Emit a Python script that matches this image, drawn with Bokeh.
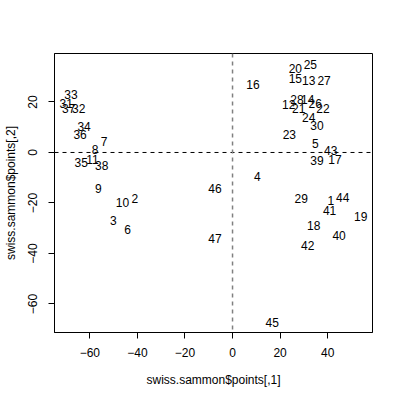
from bokeh.plotting import figure
from bokeh.models import ColumnDataSource, Range1d, Span, FixedTicker
from bokeh.core.properties import value
from bokeh.embed import file_html
from bokeh.resources import INLINE

labels = [str(i) for i in range(1, 48)]
sx = [41.3, -41.1, -50.1, 10.4, 34.8, -44.1, -54.0, -57.8, -56.4, -46.3,
      -58.9, 23.6, 32.0, 31.6, 26.4, 8.6, 43.1, 34.1, 53.9, 26.4,
      27.8, 38.0, 23.9, 32.0, 32.7, 34.8, 38.5, 27.1, 28.9, 35.5,
      -69.9, -64.7, -67.9, -62.4, -63.6, -64.1, -68.9, -55.0, 35.5, 44.8,
      40.8, 31.6, 41.3, 46.3, 16.7, -7.4, -7.4]
sy = [-19.1, -18.4, -27.0, -9.5, 3.4, -30.6, 4.3, 1.1, -14.3, -20.0,
      -2.9, 19.1, 28.7, 21.1, 29.4, 26.8, -2.6, -28.9, -25.3, 33.4,
      17.5, 17.5, 7.0, 13.8, 34.7, 19.5, 28.5, 20.8, -18.4, 10.6,
      19.5, 17.5, 22.8, 10.3, -3.8, 7.3, 17.3, -5.3, -3.3, -32.9,
      -22.9, -36.9, 0.7, -18.0, -67.4, -14.1, -34.2]
xticks = [-60, -40, -20, 0, 20, 40]
yticks = [-60, -40, -20, 0, 20]

src = ColumnDataSource(dict(x=sx, y=sy, label=labels))

p = figure(width=400, height=399, x_range=Range1d(-74.85, 58.85),
           y_range=Range1d(-71.3, 39.2), output_backend="svg",
           toolbar_location=None, min_border_left=53, min_border_top=53,
           min_border_right=28, min_border_bottom=67)
p.xgrid.visible = False
p.ygrid.visible = False
p.outline_line_color = "black"
p.outline_line_width = 1
p.background_fill_color = "white"
p.border_fill_color = "white"

for ax, ticks in ((p.xaxis[0], xticks), (p.yaxis[0], yticks)):
    ax.ticker = FixedTicker(ticks=ticks)
    ax.major_tick_out = 6
    ax.major_tick_in = 0
    ax.minor_tick_line_color = None
    ax.axis_line_color = "black"
    ax.major_tick_line_color = "black"
    ax.major_label_text_font = "Liberation Sans"
    ax.major_label_text_font_size = "12px"
    ax.major_label_text_color = "black"
    ax.axis_label_text_font = "Liberation Sans"
    ax.axis_label_text_font_size = "12px"
    ax.axis_label_text_font_style = "normal"
    ax.axis_label_text_color = "black"

p.xaxis.major_label_standoff = 9
p.yaxis.major_label_standoff = 11
p.xaxis.axis_label = "swiss.sammon$points[,1]"
p.yaxis.axis_label = "swiss.sammon$points[,2]"
p.xaxis.axis_label_standoff = 13
p.yaxis.axis_label_standoff = 8
p.yaxis.major_label_orientation = "vertical"

p.add_layout(Span(location=0, dimension="width", line_color="black",
                  line_dash="4 4", line_width=1))
p.add_layout(Span(location=0, dimension="height", line_color="#808080",
                  line_dash="4 4", line_width=1.5))

p.text(x="x", y="y", text="label", source=src, text_align="center",
       text_baseline="middle", text_font=value("Liberation Sans"),
       text_font_size="12px", text_color="black")

open("out.html", "w").write(file_html(p, INLINE))
